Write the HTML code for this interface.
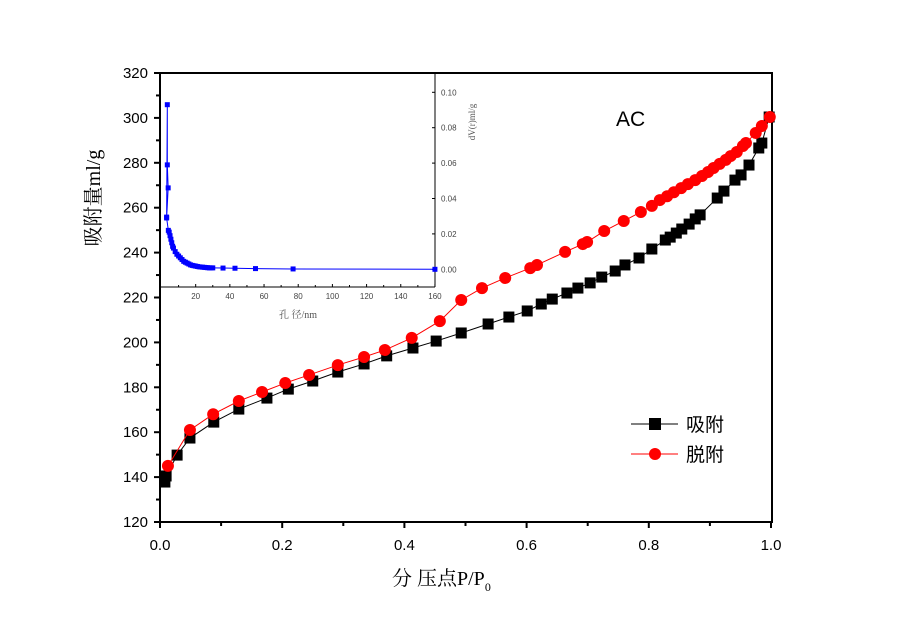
<!DOCTYPE html>
<html><head><meta charset="utf-8"><style>
body{margin:0;background:#fff}
svg text{font-family:"Liberation Sans","Noto Sans CJK SC",sans-serif}
svg text.serif{font-family:"Liberation Serif","Noto Serif CJK SC",serif}
</style></head><body>
<svg id="c" width="900" height="628" viewBox="0 0 900 628" xmlns="http://www.w3.org/2000/svg"></svg>
<script>
const xTicks=[0,0.2,0.4,0.6,0.8,1.0];
const xTickLabels=["0.0","0.2","0.4","0.6","0.8","1.0"];
const yTicks=[120,140,160,180,200,220,240,260,280,300,320];
const adsX=[0.008,0.010,0.028,0.049,0.088,0.129,0.175,0.210,0.250,0.291,0.334,0.371,0.414,0.452,0.493,0.537,0.571,0.601,0.624,0.642,0.666,0.684,0.704,0.723,0.745,0.761,0.784,0.805,0.827,0.835,0.845,0.854,0.866,0.876,0.884,0.912,0.923,0.941,0.951,0.964,0.980,0.985,0.997];
const adsY=[137.8,140.5,149.8,157.4,164.5,170.3,175.2,179.2,182.8,186.8,190.4,194.0,197.5,200.6,204.2,208.2,211.3,214.0,217.1,219.3,222.0,224.2,226.5,229.1,231.8,234.5,237.6,241.6,245.6,246.9,248.7,250.5,252.7,255.0,256.8,264.3,267.4,272.3,274.6,279.0,286.6,288.8,300.4];
const desX=[0.013,0.049,0.087,0.129,0.167,0.205,0.244,0.291,0.334,0.368,0.412,0.458,0.493,0.527,0.565,0.606,0.617,0.663,0.692,0.699,0.727,0.759,0.787,0.805,0.818,0.830,0.841,0.853,0.864,0.876,0.887,0.897,0.906,0.916,0.926,0.934,0.944,0.954,0.959,0.975,0.985,0.998];
const desY=[145.0,161.0,168.0,173.9,177.9,181.9,185.5,189.9,193.5,196.6,202.0,209.5,218.9,224.2,228.7,233.1,234.5,240.3,243.8,244.7,249.6,254.1,258.1,260.8,263.4,265.1,266.9,268.7,270.5,272.3,274.1,275.9,277.7,279.5,281.3,283.0,284.8,287.5,288.8,293.3,296.4,300.4];
const inX=[3.0,3.4,3.4,3.9,3.0,4.0,4.5,5.0,5.5,6.0,6.5,7.0,8.0,9.0,10,11,12,13,14,15,16,17,18,19,20,21,22,23,24,25,26,27,28,29,30,36,43,55,77,160];
const inY=[0.0295,0.093,0.059,0.046,0.029,0.022,0.021,0.019,0.017,0.015,0.013,0.012,0.010,0.0085,0.0075,0.0065,0.0055,0.0045,0.004,0.0035,0.003,0.0025,0.0022,0.002,0.0018,0.0016,0.0014,0.0013,0.0012,0.0011,0.001,0.0009,0.0008,0.0008,0.0008,0.0007,0.0006,0.0004,0.0002,0.0];
const inXTicks=[20,40,60,80,100,120,140,160];
const inYTicks=[0,0.02,0.04,0.06,0.08,0.10];
const inYLabels=["0.00","0.02","0.04","0.06","0.08","0.10"];

const NS="http://www.w3.org/2000/svg", svg=document.getElementById('c');
function el(t,a,p){const e=document.createElementNS(NS,t);for(const k in a)e.setAttribute(k,a[k]);(p||svg).appendChild(e);return e;}
const X0=160,X1=771,Y0=522,Y1=73;
const sx=v=>X0+(v-0)*(X1-X0);
const sy=v=>Y0-(v-120)*(Y0-Y1)/200;
const ix=v=>161.5+v*1.709;
const iy=v=>269.3-v*1770;

let f=el('rect',{x:X0,y:Y1,width:772-X0,height:Y0-Y1,fill:'none',stroke:'#000','stroke-width':2});

yTicks.forEach((v,i)=>{
  const y=sy(v);
  el('line',{x1:X0-6,x2:X0,y1:y,y2:y,stroke:'#000','stroke-width':2});
  if(i<yTicks.length-1){const ym=sy(v+10);el('line',{x1:X0-4,x2:X0,y1:ym,y2:ym,stroke:'#000','stroke-width':2});}
  const t=el('text',{x:X0-12,y:y+5,'text-anchor':'end','font-size':15});t.textContent=v;
  
});
xTicks.forEach((v,i)=>{
  const x=sx(v);
  el('line',{x1:x,x2:x,y1:Y0,y2:Y0+6,stroke:'#000','stroke-width':2});
  if(i<xTicks.length-1){const xm=sx(v+0.1);el('line',{x1:xm,x2:xm,y1:Y0,y2:Y0+4,stroke:'#000','stroke-width':2});}
  const t=el('text',{x:x,y:Y0+28,'text-anchor':'middle','font-size':15});t.textContent=xTickLabels[i];
  
});
let yl=el('text',{class:'serif',transform:'translate(100,198) rotate(-90)','text-anchor':'middle','font-size':20});
yl.textContent='吸附量ml/g';
let xl=el('text',{class:'serif',x:392,y:585,'font-size':20});
xl.innerHTML='分 压点P/P<tspan font-size="12" dy="6">0</tspan>';

let ac=el('text',{x:616,y:126,'font-size':21});ac.textContent='AC';


function series(xs,ys,col,shape,name){
  const g=el('g',{});
  el('polyline',{points:xs.map((x,i)=>sx(x)+','+sy(ys[i])).join(' '),fill:'none',stroke:col,'stroke-width':1},g);
  xs.forEach((x,i)=>{
    let m;
    if(shape==='sq')m=el('rect',{x:sx(x)-5.5,y:sy(ys[i])-5.5,width:11,height:11,fill:col},g);
    else m=el('circle',{cx:sx(x),cy:sy(ys[i]),r:6,fill:col},g);
    
  });
}
series(adsX,adsY,'#000','sq','adsorption-series');
series(desX,desY,'#f00','ci','desorption-series');

const lg=el('g',{});
el('line',{x1:631,x2:678,y1:424,y2:424,stroke:'#000'},lg);
el('rect',{x:649,y:418,width:12,height:12,fill:'#000'},lg);
let t1=el('text',{x:686,y:431,'font-size':19},lg);t1.textContent='吸附';

el('line',{x1:631,x2:678,y1:454,y2:454,stroke:'#f00'},lg);
el('circle',{cx:655,cy:454,r:6,fill:'#f00'},lg);
let t2=el('text',{x:686,y:461,'font-size':19},lg);t2.textContent='脱附';


const ig=el('g',{});
el('line',{x1:435,x2:435,y1:74,y2:287,stroke:'#000','stroke-width':1},ig);
el('line',{x1:161,x2:435,y1:287,y2:287,stroke:'#000','stroke-width':1},ig);
inXTicks.forEach(v=>{const x=ix(v);el('line',{x1:x,x2:x,y1:284,y2:287,stroke:'#000'},ig);el('line',{x1:ix(v-10),x2:ix(v-10),y1:285,y2:287,stroke:'#000'},ig);
  const t=el('text',{x:x,y:299,'text-anchor':'middle','font-size':8,fill:'#444'},ig);t.textContent=v;
  });
inYTicks.forEach((v,i)=>{const y=iy(v);el('line',{x1:432,x2:435,y1:y,y2:y,stroke:'#000'},ig);
  const t=el('text',{x:441,y:y+3,'font-size':8,fill:'#444'},ig);t.textContent=inYLabels[i];
  });
let ixl=el('text',{class:'serif',x:298,y:318,'text-anchor':'middle','font-size':10,fill:'#555'},ig);ixl.textContent='孔 径/nm';

let iyl=el('text',{class:'serif',transform:'translate(475,122) rotate(-90)','text-anchor':'middle','font-size':9,fill:'#555'},ig);iyl.textContent='dV(r)ml/g';

el('polyline',{points:inX.map((x,i)=>ix(x)+','+iy(inY[i])).join(' '),fill:'none',stroke:'#00f','stroke-width':1},ig);
inX.forEach((x,i)=>{const m=el('rect',{x:ix(x)-2.5,y:iy(inY[i])-2.5,width:5,height:5,fill:'#00f'},ig);
  });
</script>
</body></html>
